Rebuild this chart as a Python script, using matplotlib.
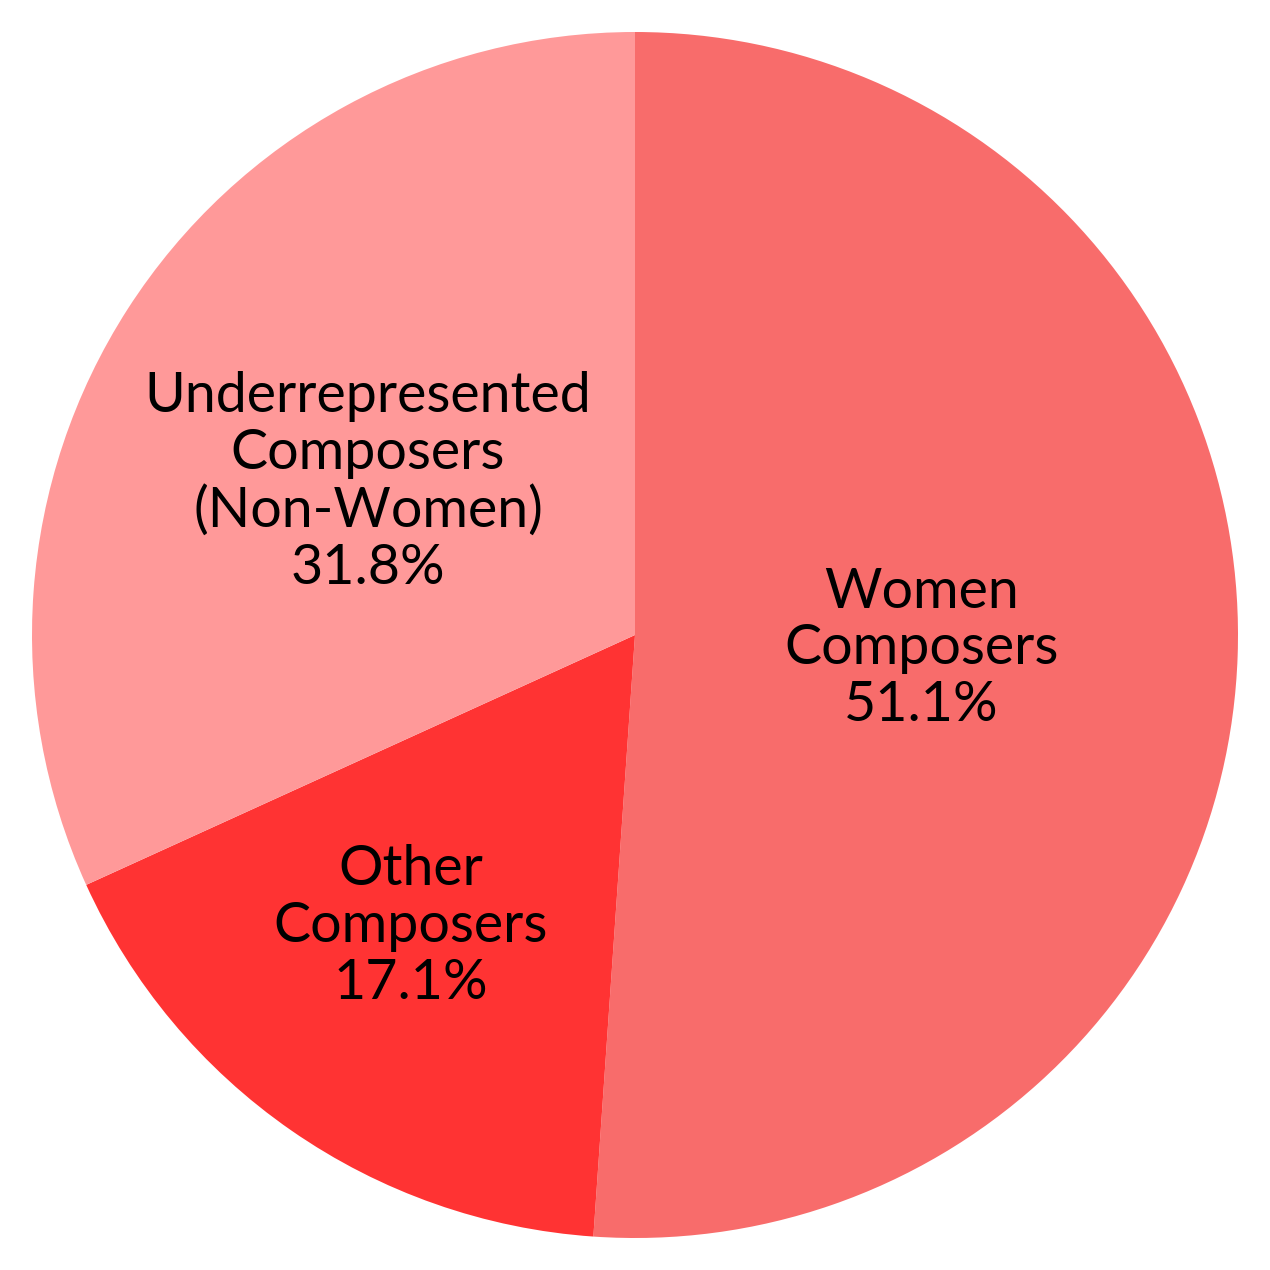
import matplotlib
matplotlib.use("Agg")
import matplotlib.pyplot as plt
import numpy as np

categories = ["Women\nComposers", "Other\nComposers", "Underrepresented\nComposers\n(Non-Women)"]
values = [51.1, 17.1, 31.8]
colors = ["#F86C6B", "#FF3333", "#FF9999"]
label_radius = [0.475, 0.61, 0.51]
label_angle_shift = [-0.8, -2.8, 3.0]

fig = plt.figure(figsize=(12.7, 12.7), dpi=100)
ax = fig.add_axes([0, 0, 1, 1])
wedges, _ = ax.pie(values, colors=colors, startangle=90, counterclock=False,
                   radius=1.0, center=(0, 0), wedgeprops=dict(linewidth=0))

total = sum(values)
for w, cat, v, r, sh in zip(wedges, categories, values, label_radius, label_angle_shift):
    mid = np.deg2rad((w.theta1 + w.theta2) / 2 + sh)
    x, y = r * np.cos(mid), r * np.sin(mid)
    ax.text(x, y, f"{cat}\n{v / total * 100:.1f}%", ha="center", va="center",
            fontsize=40, family="Lato", linespacing=1.14, color="black")

lim = 635 / 603
ax.set_xlim(-lim, lim)
ax.set_ylim(-lim, lim)
ax.set_aspect("equal")
ax.axis("off")
fig.savefig("out.png", dpi=100, facecolor="white")
